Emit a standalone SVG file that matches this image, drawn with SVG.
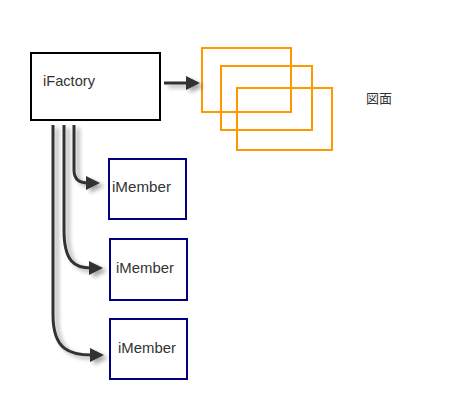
<svg xmlns="http://www.w3.org/2000/svg" width="460" height="404" viewBox="0 0 460 404">
<style>
.lbl{font-family:"Liberation Sans",Arial,sans-serif;font-size:15px;fill:#333}
.jp{font-family:"Noto Sans CJK JP","Noto Sans CJK SC",sans-serif;font-size:13px;fill:#333}
.mem{fill:#fff;stroke:#000080;stroke-width:2}
.pg{fill:none;stroke:#FF9900;stroke-width:2}
.con{fill:none;stroke:#333;stroke-width:3}
</style>
<defs>
<filter id="sh" x="-30%" y="-30%" width="160%" height="160%">
<feGaussianBlur in="SourceAlpha" stdDeviation="2"/>
<feOffset dx="4" dy="3" result="o"/>
<feComponentTransfer><feFuncA type="linear" slope="0.35"/></feComponentTransfer>
<feMerge><feMergeNode/><feMergeNode in="SourceGraphic"/></feMerge>
</filter>
<marker id="ah" markerUnits="userSpaceOnUse" markerWidth="16" markerHeight="16" refX="2" refY="7" orient="auto">
<polygon points="0,0 14,7 0,14" fill="#333"/>
</marker>
</defs>
<rect width="460" height="404" fill="#fff"/>
<g id="factory">
<rect x="31" y="53" width="129" height="67" fill="#fff" stroke="#000" stroke-width="2"/>
<text class="lbl" x="43" y="86" textLength="52" lengthAdjust="spacingAndGlyphs">iFactory</text>
</g>
<g id="drawings">
<rect class="pg" x="202" y="48" width="89" height="64"/>
<rect class="pg" x="221" y="66" width="91" height="64"/>
<rect class="pg" x="237" y="88" width="95" height="62"/>
<text class="jp" x="366" y="103">図面</text>
</g>
<g id="member1">
<rect class="mem" x="109" y="159" width="77" height="60"/>
<text class="lbl" x="112" y="192" textLength="59" lengthAdjust="spacingAndGlyphs">iMember</text>
</g>
<g id="member2">
<rect class="mem" x="110" y="239" width="77" height="61"/>
<text class="lbl" x="116" y="273" textLength="58" lengthAdjust="spacingAndGlyphs">iMember</text>
</g>
<g id="member3">
<rect class="mem" x="110" y="319" width="77" height="60"/>
<text class="lbl" x="118" y="353" textLength="58" lengthAdjust="spacingAndGlyphs">iMember</text>
</g>
<g id="connectors" filter="url(#sh)">
<path class="con" d="M164,83 L188,83" marker-end="url(#ah)"/>
<path class="con" d="M74,125 L74,170 Q74,183 88,183" marker-end="url(#ah)"/>
<path class="con" d="M64,125 L64,230 C64,262 75,268 91,268" marker-end="url(#ah)"/>
<path class="con" d="M53,125 L53,315 C53,350 70,355 92,355" marker-end="url(#ah)"/>
</g>
</svg>
